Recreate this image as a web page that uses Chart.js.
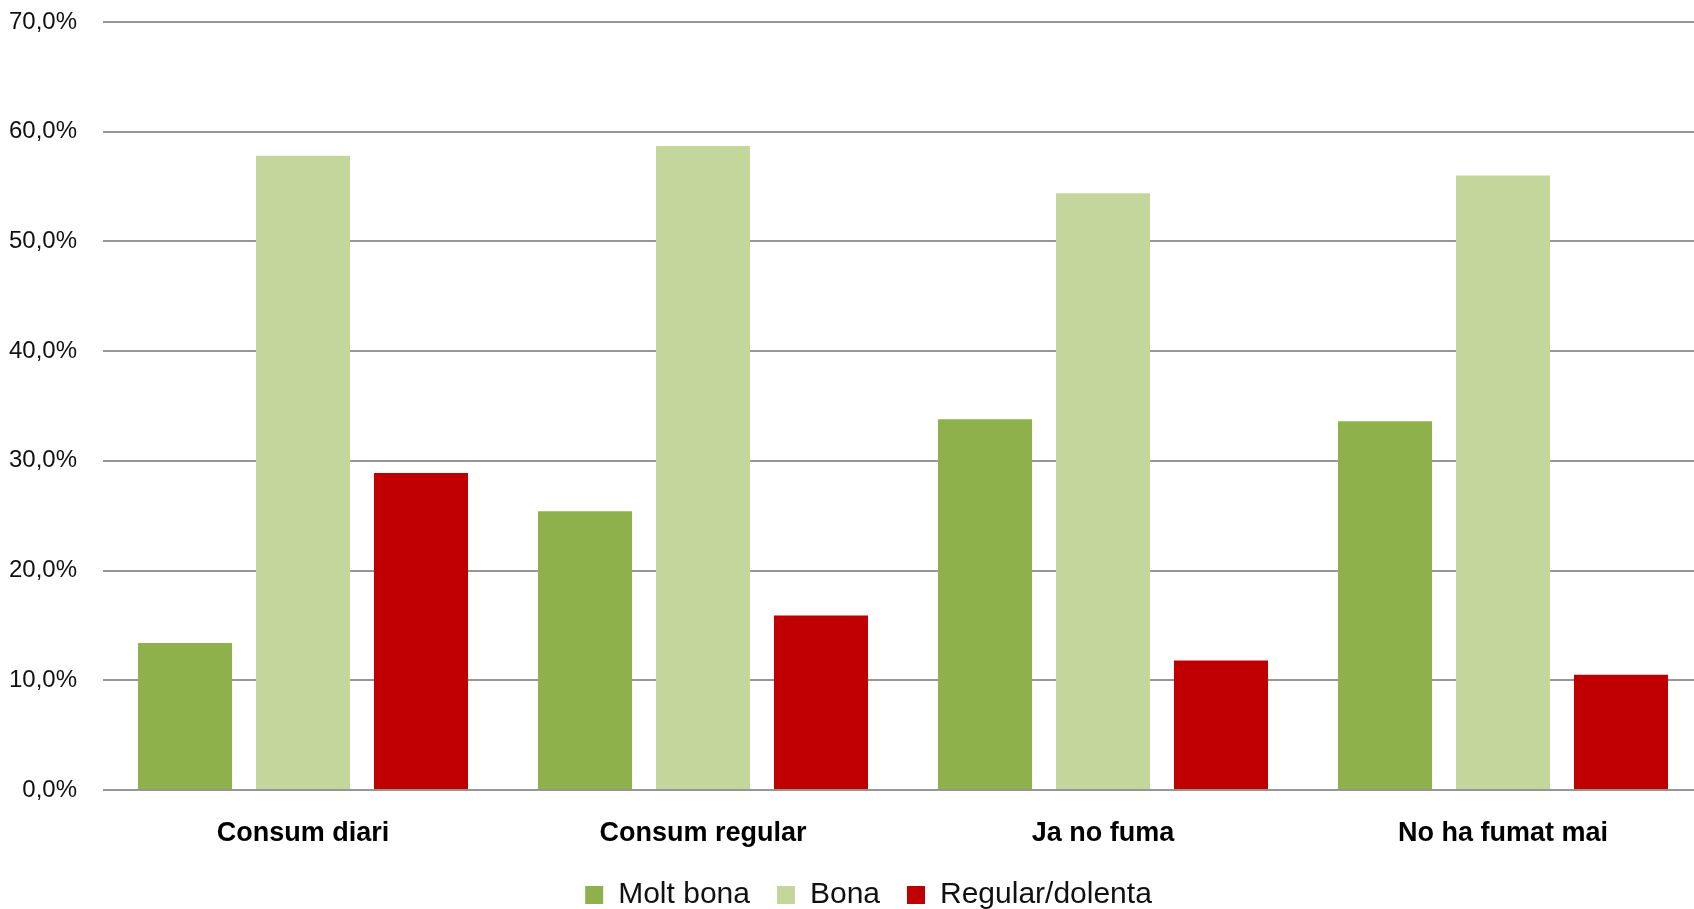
<!DOCTYPE html>
<html>
<head>
<meta charset="utf-8">
<script src="https://cdn.jsdelivr.net/npm/chart.js@4"></script>
<style>
  html, body { margin: 0; padding: 0; background: #fff; overflow: hidden; width: 1694px; height: 909px; }
  #wrap { position: absolute; left: 0; top: 0; width: 1703px; height: 920px; }
</style>
</head>
<body>
<div id="wrap"><canvas id="c"></canvas></div>
<script>
const categories = ["Consum diari", "Consum regular", "Ja no fuma", "No ha fumat mai"];
const seriesNames = ["Molt bona", "Bona", "Regular/dolenta"];
const moltBona = [13.4, 25.4, 33.8, 33.6];
const bona = [57.8, 58.7, 54.4, 56.0];
const regularDolenta = [28.9, 15.9, 11.8, 10.5];
const seriesColors = ["#8FB14B", "#C3D69B", "#C00000"];
const yTickMin = 0, yTickMax = 70, yTickStep = 10;

const LEGEND_DX = 17;
const legendShift = {
  id: 'legendShift',
  afterLayout(chart) {
    const l = chart.legend;
    if (l) { l.left += LEGEND_DX; l.right += LEGEND_DX; }
  }
};

const FONT = "'Liberation Sans', Arial, sans-serif";

new Chart(document.getElementById('c'), {
  type: 'bar',
  data: {
    labels: categories,
    datasets: [
      { label: seriesNames[0], data: moltBona, backgroundColor: seriesColors[0] },
      { label: seriesNames[1], data: bona, backgroundColor: seriesColors[1] },
      { label: seriesNames[2], data: regularDolenta, backgroundColor: seriesColors[2] }
    ]
  },
  options: {
    responsive: true,
    maintainAspectRatio: false,
    animation: false,
    devicePixelRatio: 1,
    categoryPercentage: 0.885,
    barPercentage: 0.797,
    layout: { padding: { top: 22, left: 0, right: 0, bottom: 0 } },
    plugins: {
      tooltip: { enabled: false },
      legend: {
        position: 'bottom',
        labels: {
          font: { family: FONT, size: 30 },
          color: '#111',
          boxWidth: 18,
          boxHeight: 18,
          padding: 27
        }
      }
    },
    scales: {
      x: {
        grid: { display: false, drawTicks: false },
        border: { display: false },
        ticks: {
          font: { family: FONT, size: 27, weight: 'bold' },
          color: '#000',
          padding: 27
        },
        afterFit: (s) => { s.height = 63; }
      },
      y: {
        min: yTickMin,
        max: yTickMax,
        grid: { color: '#969696', lineWidth: 2, drawTicks: true, tickLength: 26, tickColor: 'rgba(0,0,0,0)' },
        border: { display: false },
        ticks: {
          stepSize: yTickStep,
          font: { family: FONT, size: 24 },
          color: '#111',
          padding: 0,
          callback: (v) => v.toFixed(1).replace('.', ',') + '%'
        },
        afterFit: (s) => { s.width = 103; }
      }
    }
  },
  plugins: [legendShift]
});
</script>
</body>
</html>
